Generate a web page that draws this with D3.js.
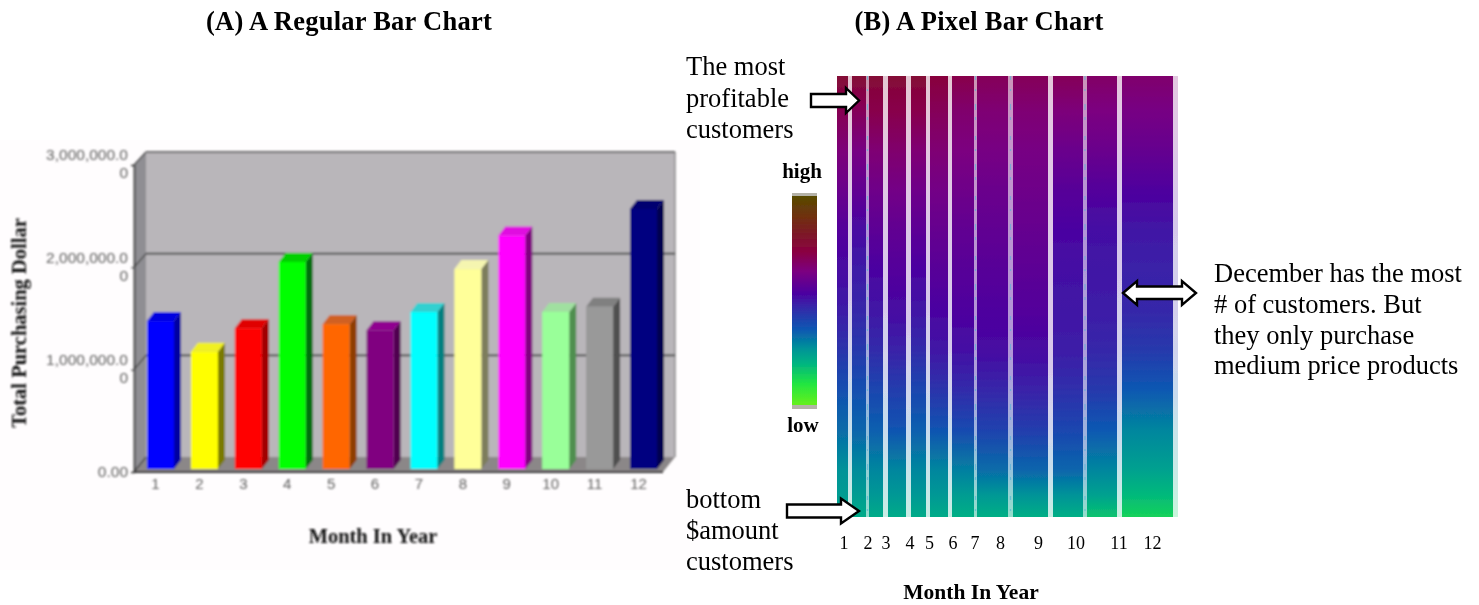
<!DOCTYPE html>
<html>
<head>
<meta charset="utf-8">
<title>Regular and pixel bar charts of purchasing by month</title>
<script src="https://cdn.jsdelivr.net/npm/d3@7"></script>
<style>
  html, body { margin: 0; padding: 0; background: #fff; }
  svg { display: block; }
  text { font-family: "Liberation Serif", "Times New Roman", serif; fill: #000; }
</style>
</head>
<body>
<div id="chart"></div>
<script>
// Regular bar chart: total purchasing dollars per month
const months = [1, 2, 3, 4, 5, 6, 7, 8, 9, 10, 11, 12];
const totals = [1450000, 1150000, 1380000, 2030000, 1420000, 1360000, 1540000, 1960000, 2290000, 1540000, 1590000, 2550000];
const dollarTicks = [0, 1000000, 2000000, 3000000];
const faceColors = ["#0000ff", "#ffff00", "#ff0000", "#00ff00", "#ff6600", "#800080", "#00ffff", "#ffff99", "#ff00ff", "#99ff99", "#999999", "#000080"];
const sideColors = ["#0000a0", "#7a7a00", "#a00000", "#006e10", "#8f3c00", "#500050", "#008080", "#7d7d5c", "#800080", "#4f8f4f", "#505050", "#000050"];
const topColors = ["#0000e0", "#f0f020", "#e00000", "#00d000", "#d06020", "#900090", "#30d0d0", "#f5f5b0", "#e010e0", "#a0e0a0", "#808080", "#000070"];

// Pixel bar chart: customers per month set the column widths
const customers = [11, 14, 14, 18, 15, 18, 22, 31, 35, 30, 30, 51];
// Customer rank down each column, 0 = top spender, 1 = lowest spender
const ranks = [0, 0.077, 0.168, 0.259, 0.349, 0.44, 0.531, 0.621, 0.712, 0.803, 0.893, 0.95, 1];
// Purchase amount on a 0-1 colour scale at each rank, one row per month
const amounts = [
  [0.77, 0.71, 0.65, 0.60, 0.55, 0.52, 0.49, 0.44, 0.38, 0.33, 0.27, 0.25, 0.22],
  [0.77, 0.70, 0.63, 0.58, 0.52, 0.49, 0.47, 0.43, 0.38, 0.34, 0.28, 0.25, 0.22],
  [0.77, 0.72, 0.66, 0.61, 0.57, 0.53, 0.50, 0.46, 0.40, 0.35, 0.29, 0.26, 0.22],
  [0.77, 0.72, 0.67, 0.62, 0.58, 0.55, 0.52, 0.48, 0.42, 0.37, 0.29, 0.26, 0.22],
  [0.77, 0.72, 0.66, 0.61, 0.57, 0.53, 0.50, 0.46, 0.40, 0.35, 0.29, 0.26, 0.22],
  [0.75, 0.70, 0.66, 0.62, 0.59, 0.56, 0.53, 0.50, 0.44, 0.37, 0.29, 0.26, 0.22],
  [0.72, 0.67, 0.64, 0.61, 0.58, 0.56, 0.54, 0.51, 0.46, 0.39, 0.30, 0.25, 0.21],
  [0.70, 0.66, 0.63, 0.60, 0.58, 0.56, 0.54, 0.52, 0.47, 0.41, 0.33, 0.26, 0.21],
  [0.70, 0.66, 0.63, 0.61, 0.59, 0.57, 0.55, 0.52, 0.48, 0.42, 0.34, 0.27, 0.21],
  [0.70, 0.65, 0.60, 0.56, 0.53, 0.51, 0.50, 0.49, 0.45, 0.40, 0.34, 0.27, 0.21],
  [0.68, 0.64, 0.60, 0.55, 0.51, 0.50, 0.49, 0.47, 0.43, 0.36, 0.29, 0.24, 0.17],
  [0.67, 0.63, 0.59, 0.54, 0.50, 0.48, 0.47, 0.43, 0.36, 0.29, 0.24, 0.19, 0.14]
];
const rampStops = [0, 0.1, 0.2, 0.27, 0.36, 0.48, 0.535, 0.64, 0.735, 0.9, 1];
const rampColors = ["#66f01c", "#22e640", "#00b482", "#009398", "#0c58b2", "#3a22a8", "#4c00a0", "#7c0080", "#8a0040", "#70300f", "#584a00"];

const width = 1479, height = 605;
const svg = d3.select("#chart").append("svg").attr("width", width).attr("height", height);
const defs = svg.append("defs");
defs.append("filter").attr("id", "softA").append("feGaussianBlur").attr("stdDeviation", 1);
defs.append("filter").attr("id", "softB").append("feGaussianBlur").attr("stdDeviation", 0.6);

svg.append("rect").attr("x", 0).attr("y", 140).attr("width", 700).attr("height", 430).attr("fill", "#fffdfe");

// ---------- Panel A ----------
const panelA = svg.append("g").attr("filter", "url(#softA)");
const wallLeft = 146, wallRight = 675, floorLeft = 134, floorRight = 663;
const yBack = d3.scaleLinear().domain([0, 3000000]).range([457, 152]);
const yFront = d3.scaleLinear().domain([0, 3000000]).range([472, 165]);
const yBar = d3.scaleLinear().domain([0, 3000000]).range([469, 163]);
const xBar = d3.scaleBand().domain(months).range([147, 657]).paddingInner(0.385).paddingOuter(0);
const depthX = 7, depthY = 9;
const polygon = pts => pts.map(p => p.join(",")).join(" ");

panelA.append("rect").attr("x", wallLeft).attr("y", yBack(3000000)).attr("width", wallRight - wallLeft)
  .attr("height", yBack(0) - yBack(3000000)).attr("fill", "#b9b6ba");
panelA.append("polygon").attr("fill", "#8f8e93").attr("points", polygon([
  [floorLeft, yFront(3000000)], [wallLeft, yBack(3000000)], [wallLeft, yBack(0)], [floorLeft, yFront(0)]]));
panelA.append("polygon").attr("fill", "#8b8788").attr("points", polygon([
  [wallLeft, yBack(0)], [wallRight, yBack(0)], [floorRight, yFront(0)], [floorLeft, yFront(0)]]));
panelA.append("line").attr("x1", wallRight).attr("x2", wallRight).attr("y1", yBack(3000000)).attr("y2", yBack(0))
  .attr("stroke", "#777").attr("stroke-width", 1.2);

const grid = panelA.selectAll(".grid").data(dollarTicks.slice(1)).join("g");
grid.append("line").attr("x1", wallLeft).attr("x2", wallRight)
  .attr("y1", d => yBack(d)).attr("y2", d => yBack(d)).attr("stroke", "#404040").attr("stroke-width", 1.6);
panelA.selectAll(".spur").data(dollarTicks).join("line")
  .attr("x1", floorLeft).attr("x2", wallLeft)
  .attr("y1", d => yFront(d)).attr("y2", d => yBack(d)).attr("stroke", "#444").attr("stroke-width", 1.3);

const bars = panelA.selectAll(".bar").data(months).join("g");
bars.append("polygon").attr("fill", (d, i) => sideColors[i]).attr("points", (d, i) => {
  const r = xBar(d) + xBar.bandwidth(), t = yBar(totals[i]), b = yBar(0);
  return polygon([[r, t], [r + depthX, t - depthY], [r + depthX, b - depthY], [r, b]]);
});
bars.append("polygon").attr("fill", (d, i) => topColors[i]).attr("points", (d, i) => {
  const l = xBar(d), r = l + xBar.bandwidth(), t = yBar(totals[i]);
  return polygon([[l, t], [l + depthX, t - depthY], [r + depthX, t - depthY], [r, t]]);
});
bars.append("rect").attr("x", d => xBar(d)).attr("y", (d, i) => yBar(totals[i]))
  .attr("width", xBar.bandwidth()).attr("height", (d, i) => yBar(0) - yBar(totals[i]))
  .attr("fill", (d, i) => faceColors[i]);

panelA.append("line").attr("x1", floorLeft).attr("x2", floorRight).attr("y1", yFront(0)).attr("y2", yFront(0))
  .attr("stroke", "#333").attr("stroke-width", 1.8);

const axisLeft = panelA.append("g").attr("transform", `translate(${floorLeft},0)`)
  .call(d3.axisLeft(yFront).tickValues(dollarTicks).tickSize(3).tickPadding(3)
    .tickFormat(d => d === 0 ? "0.00" : d3.format(",.1f")(d)));
axisLeft.select(".domain").attr("stroke", "#333").attr("stroke-width", 1.7);
axisLeft.selectAll(".tick line").attr("stroke", "#333");
axisLeft.selectAll(".tick text").each(function (d) {
  const label = d3.select(this).style("font-family", "'Liberation Sans', sans-serif")
    .style("font-size", "15.5px").style("fill", "#5e5e5e");
  if (d !== 0) {
    // The chart's narrow margin wraps the trailing zero onto a second line
    const txt = label.text();
    label.text(null).attr("dy", null);
    label.append("tspan").attr("x", -6).attr("y", -10).attr("dy", "0.32em").text(txt);
    label.append("tspan").attr("x", -6).attr("y", 8).attr("dy", "0.32em").text("0");
  }
});

const axisBottom = panelA.append("g").attr("transform", `translate(-5,${yFront(0)})`)
  .call(d3.axisBottom(xBar).tickSize(0).tickPadding(6));
axisBottom.select(".domain").remove();
axisBottom.selectAll("text").style("font-family", "'Liberation Sans', sans-serif")
  .style("font-size", "15px").style("fill", "#5e5e5e");

panelA.append("text").attr("x", 373).attr("y", 543).attr("text-anchor", "middle")
  .attr("font-weight", "bold").attr("font-size", 20.4).style("fill", "#111").text("Month In Year");
panelA.append("text").attr("transform", "translate(26,323) rotate(-90)").attr("text-anchor", "middle")
  .attr("font-weight", "bold").attr("font-size", 20.5).style("fill", "#111").text("Total Purchasing Dollar");

// ---------- Panel B ----------
const separators = [4, 3, 5, 5, 4, 4, 3, 5, 5, 4, 5, 5];
const thinSeparators = [1, 6, 7, 9];
const pixelLeft = 837, pixelRight = 1178;
const yRank = d3.scaleLinear().domain([0, 1]).range([76, 517]);
const ramp = d3.scaleLinear().domain(rampStops).range(rampColors).interpolate(d3.interpolateRgb);
const xCount = d3.scaleLinear().domain([0, d3.sum(customers)])
  .range([pixelLeft, pixelRight - d3.sum(separators)]);

// Running left edge of every column: customers so far plus separators so far
const columns = months.map((m, i) => {
  const before = d3.sum(customers.slice(0, i));
  const gapBefore = d3.sum(separators.slice(0, i));
  return {
    month: m, i,
    x: xCount(before) + gapBefore,
    w: xCount(before + customers[i]) - xCount(before),
    gap: separators[i]
  };
});

columns.forEach(c => {
  const grad = defs.append("linearGradient").attr("id", `col${c.i}`)
    .attr("x1", 0).attr("x2", 0).attr("y1", 0).attr("y2", 1);
  grad.selectAll("stop").data(ranks).join("stop")
    .attr("offset", d => d)
    .attr("stop-color", (d, j) => ramp(amounts[c.i][j]));
});

const panelB = svg.append("g").attr("filter", "url(#softB)");
const cols = panelB.selectAll(".col").data(columns).join("g");
cols.append("rect").attr("x", d => d.x + d.w).attr("y", yRank(0)).attr("width", d => d.gap)
  .attr("height", yRank(1) - yRank(0)).attr("fill", d => `url(#col${d.i})`)
  .attr("opacity", d => thinSeparators.includes(d.i) ? 0.42 : 0.22);
cols.append("rect").attr("x", d => d.x).attr("y", yRank(0)).attr("width", d => d.w)
  .attr("height", yRank(1) - yRank(0)).attr("fill", d => `url(#col${d.i})`);
// Narrow separators show scattered light pixels from neighbouring columns
panelB.selectAll(".speck").data(columns.filter(c => thinSeparators.includes(c.i))).join("line")
  .attr("x1", d => d.x + d.w + d.gap / 2).attr("x2", d => d.x + d.w + d.gap / 2)
  .attr("y1", yRank(0)).attr("y2", yRank(1))
  .attr("stroke", "#58b4d8").attr("stroke-width", 1.2).attr("opacity", 0.7)
  .attr("stroke-dasharray", "4 9 2 13 6 7 3 16");

// Colour legend
const legendY = d3.scaleLinear().domain([0, 1]).range([405, 196]);
const legendGrad = defs.append("linearGradient").attr("id", "legendRamp")
  .attr("x1", 0).attr("x2", 0).attr("y1", 1).attr("y2", 0);
legendGrad.selectAll("stop").data(rampStops).join("stop")
  .attr("offset", d => d).attr("stop-color", d => ramp(d));
panelB.append("rect").attr("x", 792).attr("y", 193).attr("width", 25).attr("height", 216)
  .attr("fill", "#b5b3a8");
panelB.append("rect").attr("x", 792).attr("y", legendY(1)).attr("width", 25)
  .attr("height", legendY(0) - legendY(1)).attr("fill", "url(#legendRamp)");
svg.append("text").attr("x", 802).attr("y", 178).attr("text-anchor", "middle")
  .attr("font-weight", "bold").attr("font-size", 21).text("high");
svg.append("text").attr("x", 803).attr("y", 432).attr("text-anchor", "middle")
  .attr("font-weight", "bold").attr("font-size", 21).text("low");

// Month labels sit a little off their column centres
const labelNudge = [1.5, 9, 10, 13, 11, 14, 12, 8, 8, 8, 17, 5];
svg.selectAll(".monthLabel").data(columns).join("text")
  .attr("x", d => d.x + d.w / 2 + labelNudge[d.i]).attr("y", 549).attr("text-anchor", "middle")
  .attr("font-size", 18).text(d => d.month);
svg.append("text").attr("x", 971).attr("y", 599).attr("text-anchor", "middle")
  .attr("font-weight", "bold").attr("font-size", 21.5).text("Month In Year");

// ---------- Titles and notes ----------
svg.append("text").attr("x", 349).attr("y", 30).attr("text-anchor", "middle")
  .attr("font-weight", "bold").attr("font-size", 26.5).attr("letter-spacing", 0.25).text("(A) A Regular Bar Chart");
svg.append("text").attr("x", 979).attr("y", 30).attr("text-anchor", "middle")
  .attr("font-weight", "bold").attr("font-size", 26.5).attr("letter-spacing", 0.25).text("(B) A Pixel Bar Chart");

const notes = [
  { x: 686, y: 75, lines: ["The most", "profitable", "customers"], step: 31.5 },
  { x: 686, y: 508, lines: ["bottom", "$amount", "customers"], step: 31 },
  { x: 1214, y: 282, lines: ["December has the most", "# of customers. But", "they only purchase", "medium price products"], step: 30.8 }
];
notes.forEach(n => {
  svg.append("text").attr("font-size", 26.5).selectAll("tspan").data(n.lines).join("tspan")
    .attr("x", n.x).attr("y", (d, i) => n.y + i * n.step).text(d => d);
});

const arrowStyle = sel => sel.attr("fill", "#fff").attr("stroke", "#000").attr("stroke-width", 2.4).attr("stroke-linejoin", "miter");
const blockArrow = (x0, x1, xHead, cy, shaft, head) => polygon([
  [x0, cy - shaft], [xHead, cy - shaft], [xHead, cy - head], [x1, cy],
  [xHead, cy + head], [xHead, cy + shaft], [x0, cy + shaft]]);
svg.append("polygon").call(arrowStyle).attr("points", blockArrow(811, 859, 846, 100.5, 6.5, 12.5));
svg.append("polygon").call(arrowStyle).attr("points", blockArrow(787, 859, 841, 511, 6.5, 12.5));
svg.append("polygon").call(arrowStyle).attr("points", polygon([
  [1123, 293], [1137, 281], [1137, 286.5], [1182, 286.5], [1182, 281], [1196, 293],
  [1182, 305], [1182, 299], [1137, 299], [1137, 305]]));
</script>
</body>
</html>
